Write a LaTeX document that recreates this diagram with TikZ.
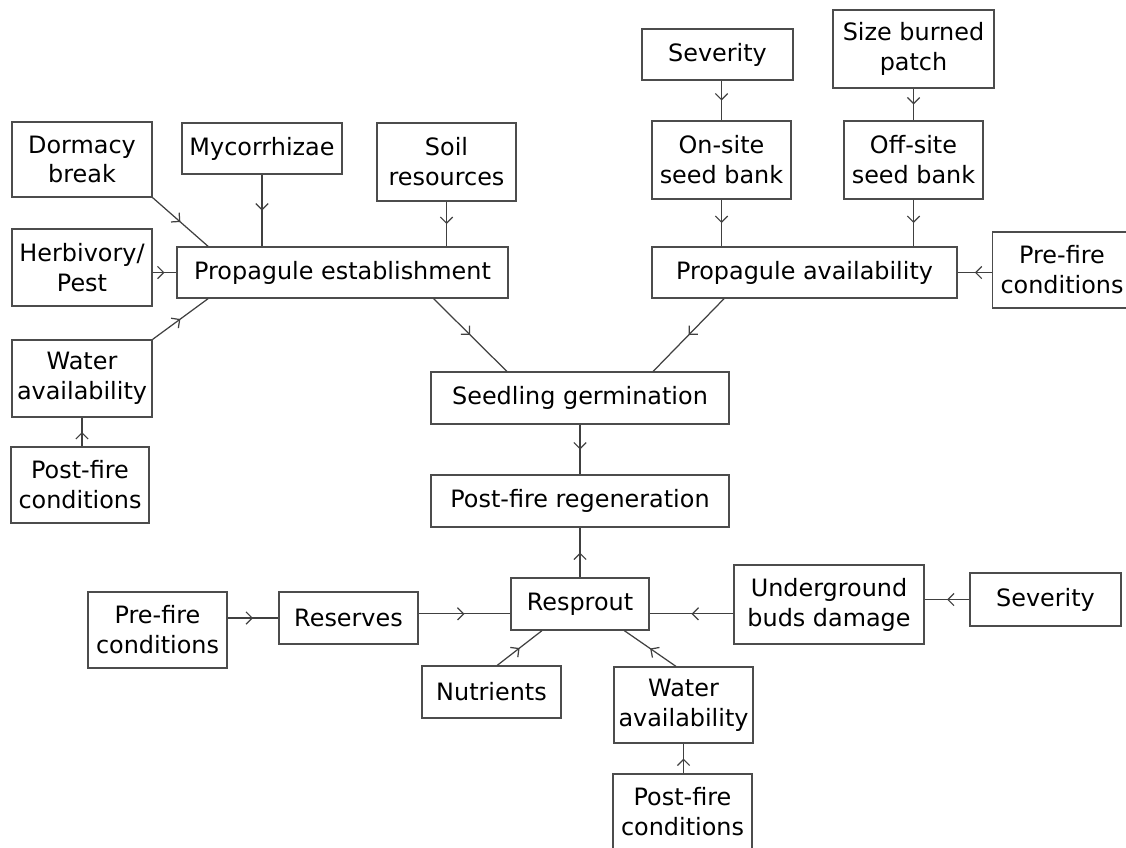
\documentclass[tikz,border=0pt]{standalone}
\usepackage{fontspec}
\setmainfont{DejaVu Sans}
\usetikzlibrary{arrows.meta,decorations.markings}

\tikzset{
    box/.style={draw=black!70, line width=0.7pt, align=center, inner sep=0pt,
        font=\fontsize{13.6}{17}\selectfont},
    onebox/.style={box, minimum width=2.78cm, minimum height=1.04cm},
    twobox/.style={box, minimum width=2.78cm, minimum height=1.54cm},
    flow/.style={draw=black!75, line width=0.7pt, postaction={decorate},
        decoration={markings, mark=at position 0.5 with
            {\arrow{Straight Barb[length=3.5pt,width=7pt]}}}}
}

\begin{document}
\begin{tikzpicture}
    \useasboundingbox (0,0) rectangle (22.52,-16.94);
    % seedling branch
    \node[twobox, minimum width=2.8cm, minimum height=1.5cm] (dormancy) at (1.64,-3.19) {Dormacy\\break};
    \node[onebox, minimum width=3.2cm, minimum height=1.02cm] (mycor) at (5.24,-2.97) {Mycorrhizae};
    \node[twobox, minimum height=1.56cm] (soil) at (8.93,-3.24) {Soil\\resources};
    \node[twobox, minimum width=2.8cm] (herbivory) at (1.64,-5.35) {Herbivory/\\Pest};
    \node[onebox, minimum width=6.62cm, minimum height=1.02cm] (estab) at (6.85,-5.45) {Propagule establishment};
    \node[twobox, minimum width=2.8cm] (water1) at (1.64,-7.57) {Water\\availability};
    \node[twobox, minimum width=2.76cm, minimum height=1.52cm] (postfire1) at (1.60,-9.70) {Post-fire\\conditions};
    \node[onebox, minimum width=3.02cm, minimum height=1.02cm] (severity1) at (14.35,-1.09) {Severity};
    \node[twobox, minimum width=3.22cm, minimum height=1.56cm] (size) at (18.27,-0.98) {Size burned\\patch};
    \node[twobox, minimum height=1.56cm] (onsite) at (14.43,-3.20) {On-site\\seed bank};
    \node[twobox, minimum height=1.56cm] (offsite) at (18.27,-3.20) {Off-site\\seed bank};
    \node[onebox, minimum width=6.10cm, minimum height=1.02cm] (avail) at (16.09,-5.45) {Propagule availability};
    \node[twobox, minimum height=1.52cm] (prefire1) at (21.24,-5.40) {Pre-fire\\conditions};
    % centre column
    \node[onebox, minimum width=5.96cm] (seedling) at (11.60,-7.96) {Seedling germination};
    \node[onebox, minimum width=5.96cm] (regen) at (11.60,-10.02) {Post-fire regeneration};
    \node[onebox, minimum width=2.76cm] (resprout) at (11.60,-12.08) {Resprout};
    % resprout branch
    \node[onebox] (reserves) at (6.97,-12.36) {Reserves};
    \node[twobox, minimum height=1.52cm] (prefire2) at (3.15,-12.60) {Pre-fire\\conditions};
    \node[twobox, minimum width=3.80cm, minimum height=1.58cm] (buds) at (16.58,-12.09) {Underground\\buds damage};
    \node[onebox, minimum width=3.02cm, minimum height=1.06cm] (severity2) at (20.91,-11.99) {Severity};
    \node[onebox] (nutrients) at (9.83,-13.84) {Nutrients};
    \node[twobox, minimum height=1.52cm] (water2) at (13.67,-14.10) {Water\\availability};
    \node[twobox, minimum height=1.52cm] (postfire2) at (13.65,-16.24) {Post-fire\\conditions};

    % connectors
    \draw[flow] (dormancy.south east) -- (estab.169);
    \draw[flow] (mycor.south) -- (mycor.south |- estab.north);
    \draw[flow] (soil.south) -- (soil.south |- estab.north);
    \draw[flow] (estab.west -| herbivory.east) -- (estab.west);
    \draw[flow] (water1.north east) -- (estab.191);
    \draw[flow] (water1.south |- postfire1.north) -- (water1.south);
    \draw[flow] (onsite.north |- severity1.south) -- (onsite.north);
    \draw[flow] (size.south) -- (offsite.north);
    \draw[flow] (onsite.south) -- (onsite.south |- avail.north);
    \draw[flow] (offsite.south) -- (offsite.south |- avail.north);
    \draw[flow] (avail.east -| prefire1.west) -- (avail.east);
    \draw[flow] (estab.-16) -- (seedling.160);
    \draw[flow] (avail.198) -- (seedling.20);
    \draw[flow] (seedling.south) -- (regen.north);
    \draw[flow] (resprout.north) -- (regen.south);
    \draw[flow] (reserves.west -| prefire2.east) -- (reserves.west);
    \draw[flow] (resprout.188 -| reserves.east) -- (resprout.188);
    \draw[flow] (resprout.-8 -| buds.west) -- (resprout.-8);
    \draw[flow] (severity2.west) -- (severity2.west -| buds.east);
    \draw[flow] (nutrients.78) -- (resprout.215);
    \draw[flow] (water2.101) -- (resprout.-31);
    \draw[flow] (water2.south |- postfire2.north) -- (water2.south);
\end{tikzpicture}
\end{document}
